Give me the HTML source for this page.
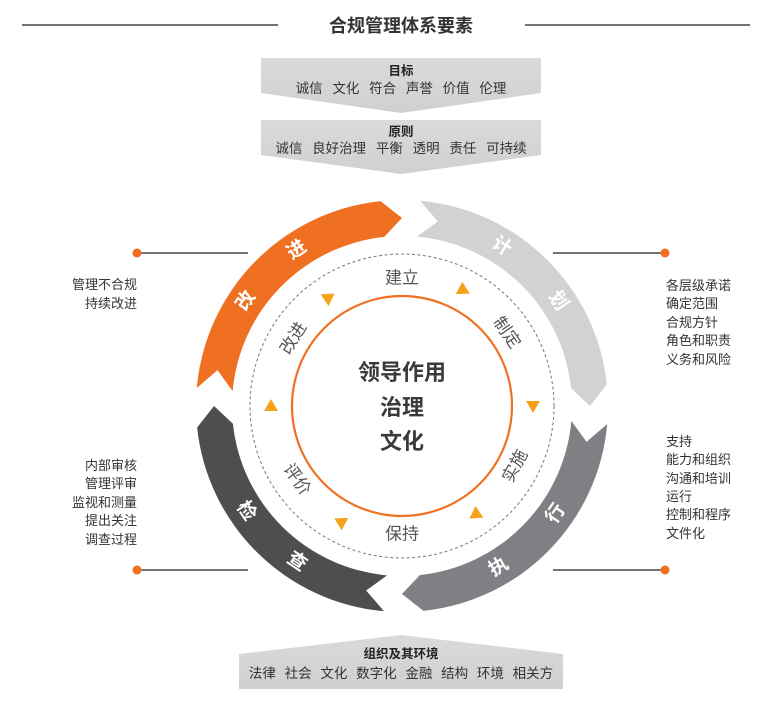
<!DOCTYPE html>
<html><head><meta charset="utf-8">
<style>
html,body{margin:0;padding:0;background:#fff;}
svg{display:block;}
text{font-family:"Liberation Sans","Noto Sans CJK SC",sans-serif;}
</style></head>
<body>
<svg id="s" width="768" height="701" viewBox="0 0 768 701" xmlns="http://www.w3.org/2000/svg">
<defs>
<linearGradient id="gb" x1="0" y1="0" x2="0" y2="1"><stop offset="0" stop-color="#d9dadc"/><stop offset="1" stop-color="#cfd0d2"/></linearGradient>
</defs>
<line x1="22" y1="25" x2="278" y2="25" stroke="#222" stroke-width="1.2"/>
<line x1="525" y1="25" x2="750" y2="25" stroke="#222" stroke-width="1.2"/>
<text x="401" y="32" text-anchor="middle" font-size="18" font-weight="bold" fill="#333">合规管理体系要素</text>

<polygon points="261,58 541,58 541,93 401,113 261,93" fill="url(#gb)"/>
<text x="401" y="75" text-anchor="middle" font-size="12.5" font-weight="bold" fill="#222">目标</text>
<text x="401" y="93" text-anchor="middle" font-size="13.5" word-spacing="6" fill="#333">诚信 文化 符合 声誉 价值 伦理</text>
<polygon points="261,120 541,120 541,155 401,174 261,155" fill="url(#gb)"/>
<text x="401" y="136" text-anchor="middle" font-size="12.5" font-weight="bold" fill="#222">原则</text>
<text x="401" y="153" text-anchor="middle" font-size="13.5" word-spacing="6" fill="#333">诚信 良好治理 平衡 透明 责任 可持续</text>

<polygon points="239,654 401,635 563,654 563,689 239,689" fill="url(#gb)"/>
<text x="401" y="658" text-anchor="middle" font-size="12.5" font-weight="bold" fill="#222">组织及其环境</text>
<text x="401" y="678" text-anchor="middle" font-size="13.5" word-spacing="5" fill="#333">法律 社会 文化 数字化 金融 结构 环境 相关方</text>

<line x1="137" y1="253" x2="248" y2="253" stroke="#222" stroke-width="1.2"/>
<circle cx="137" cy="253" r="4.5" fill="#f07022"/>
<line x1="553" y1="253" x2="665" y2="253" stroke="#222" stroke-width="1.2"/>
<circle cx="665" cy="253" r="4.5" fill="#f07022"/>
<line x1="137" y1="570" x2="248" y2="570" stroke="#222" stroke-width="1.2"/>
<circle cx="137" cy="570" r="4.5" fill="#f07022"/>
<line x1="553" y1="570" x2="665" y2="570" stroke="#222" stroke-width="1.2"/>
<circle cx="665" cy="570" r="4.5" fill="#f07022"/>

<g font-size="13" fill="#333" text-anchor="end">
<text x="137" y="289">管理不合规</text>
<text x="137" y="308">持续改进</text>
<text x="137" y="470">内部审核</text>
<text x="137" y="488">管理评审</text>
<text x="137" y="507">监视和测量</text>
<text x="137" y="525">提出关注</text>
<text x="137" y="544">调查过程</text>
</g>
<g font-size="13" fill="#333">
<text x="666" y="290">各层级承诺</text>
<text x="666" y="308">确定范围</text>
<text x="666" y="327">合规方针</text>
<text x="666" y="345">角色和职责</text>
<text x="666" y="364">义务和风险</text>
<text x="666" y="446">支持</text>
<text x="666" y="464">能力和组织</text>
<text x="666" y="483">沟通和培训</text>
<text x="666" y="501">运行</text>
<text x="666" y="519">控制和程序</text>
<text x="666" y="538">文件化</text>
</g>

<g id="ring"></g>
<circle cx="402" cy="406" r="152" fill="none" stroke="#777" stroke-width="1" stroke-dasharray="3,2.5"/>
<circle cx="402" cy="406" r="110" fill="none" stroke="#f07022" stroke-width="2.2"/>
<g id="inner"></g>
<g font-size="22" font-weight="bold" fill="#3a3a3a" text-anchor="middle">
<text x="402" y="380">领导作用</text>
<text x="402" y="415">治理</text>
<text x="402" y="449">文化</text>
</g>
</svg>
<script>
var cx=402,cy=406,R1=170,R2=206,Rm=188,NS="http://www.w3.org/2000/svg";
function P(r,t){t=t*Math.PI/180;return [cx+r*Math.sin(t),cy-r*Math.cos(t)];}
function f(p){return p[0].toFixed(2)+","+p[1].toFixed(2);}
var segs=[[5,90,"#d1d2d4"],[95,180,"#7f8083"],[185,270,"#4d4e50"],[275,360,"#f07022"]];
var ring=document.getElementById("ring");
segs.forEach(function(s){
 var a=s[0],b=s[1],d=6;
 var p="M"+f(P(R2,a))+" A"+R2+","+R2+" 0 0 1 "+f(P(R2,b-d))+" L"+f(P(Rm,b))+" L"+f(P(R1,b-d))+
 " A"+R1+","+R1+" 0 0 0 "+f(P(R1,a))+" L"+f(P(Rm,a+d))+" Z";
 var e=document.createElementNS(NS,"path");e.setAttribute("d",p);e.setAttribute("fill",s[2]);ring.appendChild(e);
});
function txt(parent,str,r,t,size,weight,fill){
 var p=P(r,t);var rot=(t>90&&t<270)?t-180:t;
 var e=document.createElementNS(NS,"text");
 e.setAttribute("x",p[0]);e.setAttribute("y",p[1]);
 e.setAttribute("text-anchor","middle");e.setAttribute("dominant-baseline","central");
 e.setAttribute("font-size",size);if(weight)e.setAttribute("font-weight",weight);
 e.setAttribute("fill",fill);e.setAttribute("transform","rotate("+rot+" "+p[0]+" "+p[1]+")");
 e.textContent=str;parent.appendChild(e);
}
var inner=document.getElementById("inner");
[["改",304],["进",326],["计",32],["划",56],["行",125],["执",149],["检",236],["查",214]].forEach(function(c){txt(ring,c[0],188,c[1],19,"bold","#fff");});
[["建立",0],["制定",55],["实施",118],["保持",180],["评价",235],["改进",302]].forEach(function(c){txt(inner,c[0],128,c[1],17,null,"#555");});
[28,90,146,208,270,326].forEach(function(t){
 var c=P(131,t),rad=t*Math.PI/180;
 var dx=Math.cos(rad),dy=Math.sin(rad);
 var nx=Math.sin(rad),ny=-Math.cos(rad);
 var tip=[c[0]+dx*7,c[1]+dy*7],b1=[c[0]-dx*5+nx*7,c[1]-dy*5+ny*7],b2=[c[0]-dx*5-nx*7,c[1]-dy*5-ny*7];
 var e=document.createElementNS(NS,"polygon");e.setAttribute("points",f(tip)+" "+f(b1)+" "+f(b2));
 e.setAttribute("fill","#f6a11a");inner.appendChild(e);
});
</script>
</body></html>
